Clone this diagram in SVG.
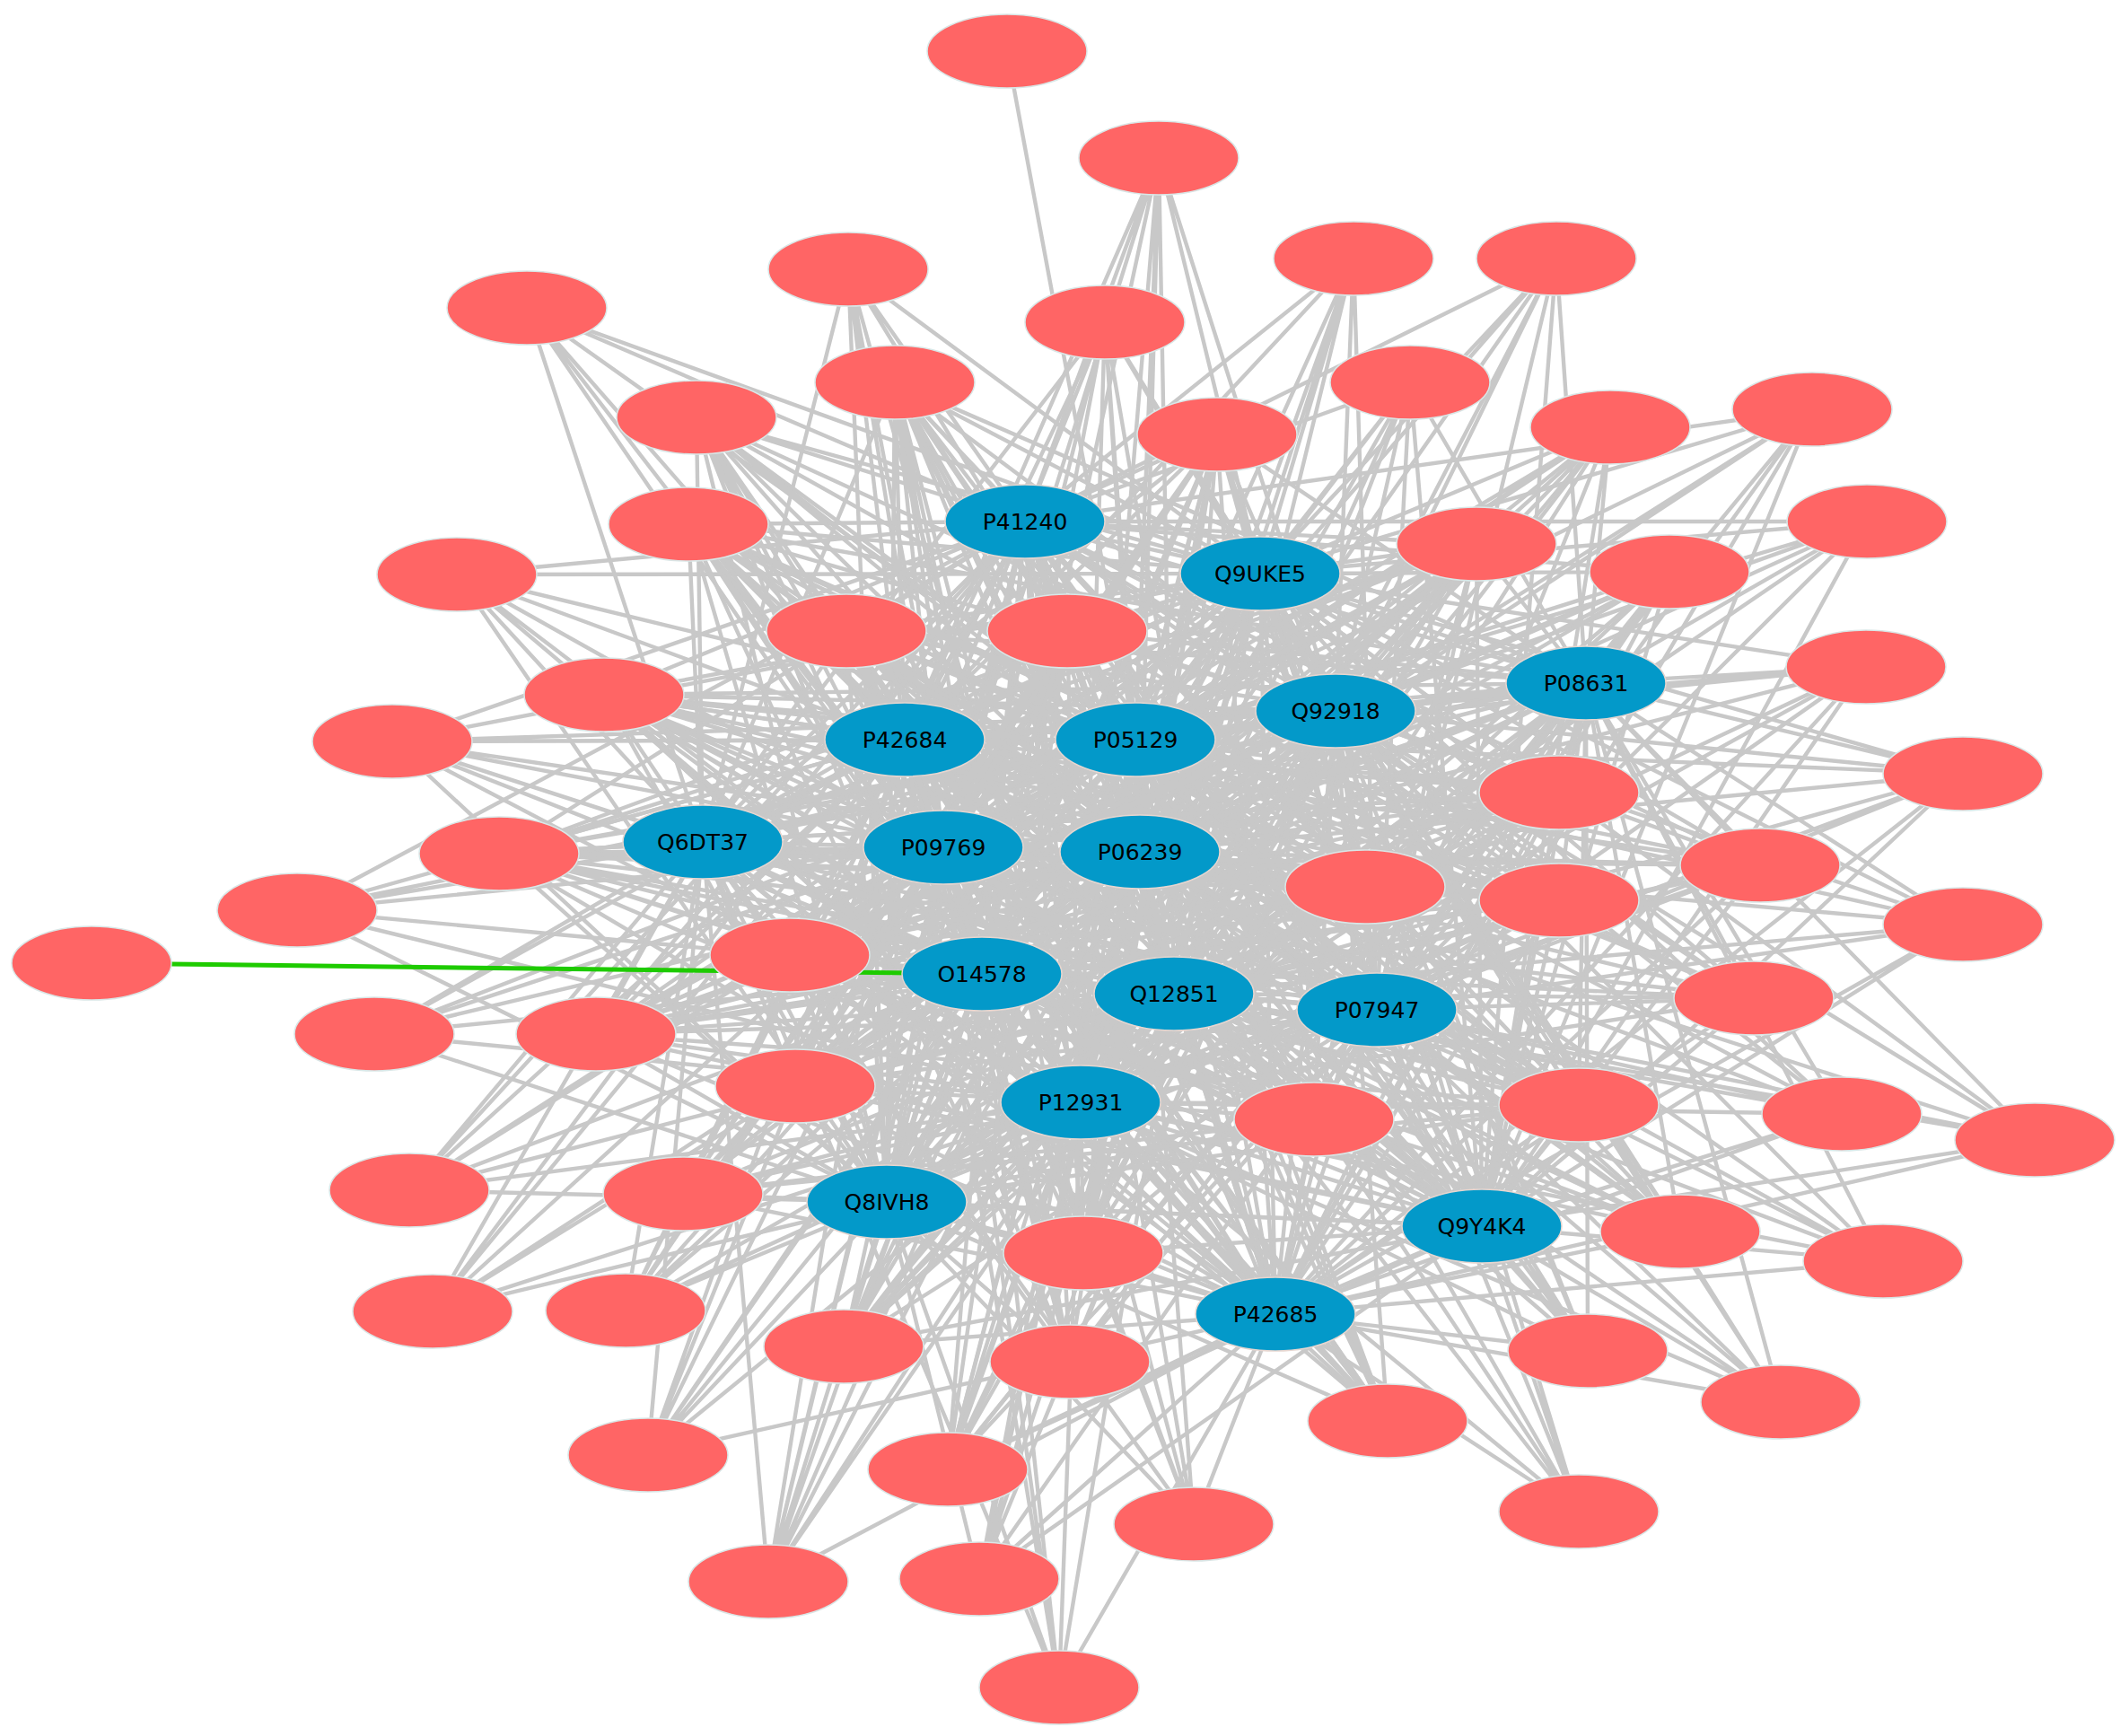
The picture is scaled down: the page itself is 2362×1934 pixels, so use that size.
<svg xmlns="http://www.w3.org/2000/svg" width="2362" height="1934" viewBox="0 0 2362 1934">
<defs>
<style>
.e{fill:none;stroke:#c8c8c8;stroke-width:4.4;stroke-linecap:round}
.g{fill:none;stroke:#1ecb00;stroke-width:5}
.r{fill:#ff6565;stroke:#d9e6e6;stroke-width:1.5}
.b{fill:#0399c9;stroke:#e6d6d0;stroke-width:1.5}
.t{font-family:"DejaVu Sans",Verdana,sans-serif;font-size:25px;fill:#000;text-anchor:middle;dominant-baseline:central}
</style>
</defs>
<rect width="2362" height="1934" fill="#fff"/>
<g id="edges">
<path class="e" d="M1122 57L1265 824"/>
<path class="e" d="M1291 176L1142 581M1291 176L1404 639M1291 176L1488 792M1291 176L1008 824M1291 176L1265 824M1291 176L1051 944M1291 176L1270 949M1291 176L1094 1085M1291 176L1308 1107M1291 176L1204 1228"/>
<path class="e" d="M945 300L1142 581M945 300L1404 639M945 300L1008 824M945 300L1265 824M945 300L783 938M945 300L1051 944M945 300L1094 1085M945 300L1204 1228M945 300L988 1339"/>
<path class="e" d="M587 343L1142 581M587 343L1404 639M587 343L1008 824M587 343L1265 824M587 343L783 938M587 343L1051 944M587 343L1094 1085"/>
<path class="e" d="M1508 288L1142 581M1508 288L1404 639M1508 288L1488 792M1508 288L1008 824M1508 288L1265 824M1508 288L1270 949M1508 288L1308 1107M1508 288L1534 1125M1508 288L1204 1228"/>
<path class="e" d="M1734 288L1142 581M1734 288L1404 639M1734 288L1767 761M1734 288L1488 792M1734 288L1265 824M1734 288L1270 949M1734 288L1308 1107M1734 288L1534 1125M1734 288L1651 1366"/>
<path class="e" d="M1231 359L1142 581M1231 359L1404 639M1231 359L1488 792M1231 359L1008 824M1231 359L1265 824M1231 359L783 938M1231 359L1270 949M1231 359L1094 1085M1231 359L1204 1228M1231 359L988 1339M1231 359L1421 1464"/>
<path class="e" d="M997 426L1142 581M997 426L1488 792M997 426L1008 824M997 426L1265 824M997 426L783 938M997 426L1051 944M997 426L1094 1085M997 426L1308 1107M997 426L1204 1228M997 426L988 1339M997 426L1404 639M997 426L1767 761M997 426L1270 949M997 426L1534 1125M997 426L1651 1366M997 426L1421 1464"/>
<path class="e" d="M776 465L1142 581M776 465L1404 639M776 465L1488 792M776 465L1008 824M776 465L1265 824M776 465L783 938M776 465L1051 944M776 465L1270 949M776 465L1094 1085M776 465L988 1339"/>
<path class="e" d="M1571 426L1142 581M1571 426L1404 639M1571 426L1767 761M1571 426L1488 792M1571 426L1265 824M1571 426L1270 949M1571 426L1308 1107M1571 426L1534 1125M1571 426L1204 1228M1571 426L1651 1366"/>
<path class="e" d="M1356 484L1142 581M1356 484L1767 761M1356 484L1488 792M1356 484L1008 824M1356 484L783 938M1356 484L1051 944M1356 484L1094 1085M1356 484L1308 1107M1356 484L1204 1228M1356 484L988 1339M1356 484L1421 1464M1356 484L1404 639M1356 484L1265 824M1356 484L1270 949M1356 484L1534 1125M1356 484L1651 1366"/>
<path class="e" d="M1794 476L1404 639M1794 476L1767 761M1794 476L1488 792M1794 476L1265 824M1794 476L1270 949M1794 476L1308 1107M1794 476L1534 1125M1794 476L1651 1366"/>
<path class="e" d="M2019 456L1142 581M2019 456L1404 639M2019 456L1767 761M2019 456L1488 792M2019 456L1265 824M2019 456L1270 949M2019 456L1534 1125M2019 456L1651 1366M2019 456L1421 1464"/>
<path class="e" d="M767 584L1142 581M767 584L1404 639M767 584L1488 792M767 584L1008 824M767 584L1265 824M767 584L783 938M767 584L1051 944M767 584L1094 1085M767 584L1204 1228M767 584L988 1339M767 584L1767 761M767 584L1270 949M767 584L1308 1107M767 584L1534 1125M767 584L1651 1366M767 584L1421 1464"/>
<path class="e" d="M2080 581L1142 581M2080 581L1404 639M2080 581L1767 761M2080 581L1488 792M2080 581L1265 824M2080 581L1270 949M2080 581L1308 1107M2080 581L1534 1125M2080 581L1651 1366"/>
<path class="e" d="M1645 606L1142 581M1645 606L1767 761M1645 606L1488 792M1645 606L1008 824M1645 606L783 938M1645 606L1051 944M1645 606L1094 1085M1645 606L1534 1125M1645 606L1204 1228M1645 606L1421 1464M1645 606L1404 639M1645 606L1265 824M1645 606L1270 949M1645 606L1308 1107M1645 606L988 1339M1645 606L1651 1366"/>
<path class="e" d="M509 640L1142 581M509 640L1404 639M509 640L1008 824M509 640L1265 824M509 640L783 938M509 640L1051 944M509 640L1094 1085M509 640L1204 1228M509 640L988 1339"/>
<path class="e" d="M1860 637L1142 581M1860 637L1404 639M1860 637L1767 761M1860 637L1488 792M1860 637L1265 824M1860 637L1270 949M1860 637L1308 1107M1860 637L1534 1125M1860 637L1651 1366M1860 637L1421 1464"/>
<path class="e" d="M943 703L1404 639M943 703L1767 761M943 703L1488 792M943 703L1265 824M943 703L1270 949M943 703L1308 1107M943 703L1534 1125M943 703L1204 1228M943 703L1651 1366M943 703L1142 581M943 703L1008 824M943 703L783 938M943 703L1051 944M943 703L1094 1085M943 703L988 1339M943 703L1421 1464"/>
<path class="e" d="M1189 703L1767 761M1189 703L1488 792M1189 703L783 938M1189 703L1051 944M1189 703L1094 1085M1189 703L1534 1125M1189 703L988 1339M1189 703L1651 1366M1189 703L1421 1464M1189 703L1142 581M1189 703L1404 639M1189 703L1008 824M1189 703L1265 824M1189 703L1270 949M1189 703L1308 1107M1189 703L1204 1228"/>
<path class="e" d="M673 774L1142 581M673 774L1404 639M673 774L1008 824M673 774L1265 824M673 774L783 938M673 774L1051 944M673 774L1270 949M673 774L1094 1085M673 774L1308 1107M673 774L1204 1228M673 774L988 1339M673 774L1767 761M673 774L1488 792M673 774L1534 1125M673 774L1651 1366M673 774L1421 1464"/>
<path class="e" d="M2079 743L1404 639M2079 743L1767 761M2079 743L1488 792M2079 743L1265 824M2079 743L1270 949M2079 743L1308 1107M2079 743L1534 1125M2079 743L1204 1228M2079 743L1651 1366M2079 743L1421 1464"/>
<path class="e" d="M437 826L1142 581M437 826L1008 824M437 826L1265 824M437 826L783 938M437 826L1051 944M437 826L1270 949M437 826L1094 1085M437 826L1204 1228M437 826L988 1339M437 826L1404 639M437 826L1488 792M437 826L1308 1107"/>
<path class="e" d="M2187 862L1404 639M2187 862L1767 761M2187 862L1488 792M2187 862L1265 824M2187 862L1270 949M2187 862L1308 1107M2187 862L1534 1125M2187 862L1204 1228M2187 862L1651 1366M2187 862L1421 1464"/>
<path class="e" d="M1737 883L1142 581M1737 883L1008 824M1737 883L1265 824M1737 883L783 938M1737 883L1051 944M1737 883L1094 1085M1737 883L1308 1107M1737 883L1204 1228M1737 883L988 1339M1737 883L1421 1464M1737 883L1404 639M1737 883L1767 761M1737 883L1488 792M1737 883L1270 949M1737 883L1534 1125M1737 883L1651 1366"/>
<path class="e" d="M556 951L1142 581M556 951L1404 639M556 951L1008 824M556 951L1265 824M556 951L783 938M556 951L1051 944M556 951L1270 949M556 951L1094 1085M556 951L1308 1107M556 951L1204 1228M556 951L988 1339M556 951L1488 792M556 951L1534 1125M556 951L1421 1464"/>
<path class="e" d="M1961 964L1142 581M1961 964L1404 639M1961 964L1767 761M1961 964L1488 792M1961 964L1265 824M1961 964L1270 949M1961 964L1308 1107M1961 964L1534 1125M1961 964L1204 1228M1961 964L1651 1366M1961 964L1421 1464"/>
<path class="e" d="M1521 988L1142 581M1521 988L1767 761M1521 988L1008 824M1521 988L783 938M1521 988L1051 944M1521 988L1094 1085M1521 988L988 1339M1521 988L1651 1366M1521 988L1404 639M1521 988L1488 792M1521 988L1265 824M1521 988L1270 949M1521 988L1308 1107M1521 988L1534 1125M1521 988L1204 1228M1521 988L1421 1464"/>
<path class="e" d="M1737 1003L1142 581M1737 1003L1404 639M1737 1003L1008 824M1737 1003L1265 824M1737 1003L783 938M1737 1003L1051 944M1737 1003L1094 1085M1737 1003L1204 1228M1737 1003L988 1339M1737 1003L1421 1464M1737 1003L1767 761M1737 1003L1488 792M1737 1003L1270 949M1737 1003L1308 1107M1737 1003L1534 1125M1737 1003L1651 1366"/>
<path class="e" d="M331 1014L1142 581M331 1014L1008 824M331 1014L1265 824M331 1014L783 938M331 1014L1051 944M331 1014L1094 1085M331 1014L1204 1228M331 1014L988 1339"/>
<path class="e" d="M2187 1030L1404 639M2187 1030L1767 761M2187 1030L1488 792M2187 1030L1265 824M2187 1030L1270 949M2187 1030L1308 1107M2187 1030L1534 1125M2187 1030L1651 1366M2187 1030L1421 1464"/>
<path class="e" d="M880 1064L1142 581M880 1064L1404 639M880 1064L1767 761M880 1064L1488 792M880 1064L1265 824M880 1064L1270 949M880 1064L1308 1107M880 1064L1534 1125M880 1064L1204 1228M880 1064L1651 1366M880 1064L1421 1464M880 1064L1008 824M880 1064L783 938M880 1064L1051 944M880 1064L1094 1085M880 1064L988 1339"/>
<path class="e" d="M417 1152L1008 824M417 1152L1265 824M417 1152L783 938M417 1152L1051 944M417 1152L1270 949M417 1152L1094 1085M417 1152L1204 1228M417 1152L988 1339"/>
<path class="e" d="M664 1152L1142 581M664 1152L1404 639M664 1152L1488 792M664 1152L1265 824M664 1152L1270 949M664 1152L1308 1107M664 1152L1534 1125M664 1152L1204 1228M664 1152L1651 1366M664 1152L1421 1464M664 1152L1008 824M664 1152L783 938M664 1152L1051 944M664 1152L1094 1085M664 1152L988 1339M664 1152L1767 761"/>
<path class="e" d="M1954 1112L1142 581M1954 1112L1404 639M1954 1112L1767 761M1954 1112L1488 792M1954 1112L1265 824M1954 1112L1270 949M1954 1112L1308 1107M1954 1112L1534 1125M1954 1112L1204 1228M1954 1112L1651 1366M1954 1112L1421 1464"/>
<path class="e" d="M886 1210L1142 581M886 1210L1404 639M886 1210L1767 761M886 1210L1488 792M886 1210L1265 824M886 1210L1270 949M886 1210L1308 1107M886 1210L1534 1125M886 1210L1651 1366M886 1210L1421 1464M886 1210L1008 824M886 1210L783 938M886 1210L1051 944M886 1210L1094 1085M886 1210L1204 1228M886 1210L988 1339"/>
<path class="e" d="M1464 1247L1142 581M1464 1247L1404 639M1464 1247L1767 761M1464 1247L1008 824M1464 1247L1265 824M1464 1247L783 938M1464 1247L1051 944M1464 1247L1094 1085M1464 1247L988 1339M1464 1247L1488 792M1464 1247L1270 949M1464 1247L1308 1107M1464 1247L1534 1125M1464 1247L1204 1228M1464 1247L1651 1366M1464 1247L1421 1464"/>
<path class="e" d="M1759 1231L1142 581M1759 1231L1404 639M1759 1231L1008 824M1759 1231L1265 824M1759 1231L783 938M1759 1231L1051 944M1759 1231L1270 949M1759 1231L1094 1085M1759 1231L1204 1228M1759 1231L988 1339M1759 1231L1767 761M1759 1231L1488 792M1759 1231L1308 1107M1759 1231L1534 1125M1759 1231L1651 1366M1759 1231L1421 1464"/>
<path class="e" d="M2052 1241L1404 639M2052 1241L1767 761M2052 1241L1488 792M2052 1241L1265 824M2052 1241L1270 949M2052 1241L1308 1107M2052 1241L1534 1125M2052 1241L1204 1228M2052 1241L1651 1366M2052 1241L1421 1464"/>
<path class="e" d="M2267 1270L1404 639M2267 1270L1767 761M2267 1270L1488 792M2267 1270L1270 949M2267 1270L1308 1107M2267 1270L1534 1125M2267 1270L1651 1366M2267 1270L1421 1464"/>
<path class="e" d="M456 1326L1142 581M456 1326L1008 824M456 1326L1265 824M456 1326L783 938M456 1326L1051 944M456 1326L1094 1085M456 1326L1308 1107M456 1326L1204 1228M456 1326L988 1339"/>
<path class="e" d="M761 1330L1142 581M761 1330L1404 639M761 1330L1488 792M761 1330L1265 824M761 1330L1270 949M761 1330L1308 1107M761 1330L1534 1125M761 1330L1204 1228M761 1330L1651 1366M761 1330L1421 1464"/>
<path class="e" d="M1872 1372L1142 581M1872 1372L1404 639M1872 1372L1767 761M1872 1372L1488 792M1872 1372L1265 824M1872 1372L1270 949M1872 1372L1094 1085M1872 1372L1308 1107M1872 1372L1534 1125M1872 1372L1204 1228M1872 1372L1421 1464"/>
<path class="e" d="M1207 1396L1142 581M1207 1396L1404 639M1207 1396L1767 761M1207 1396L1488 792M1207 1396L1008 824M1207 1396L783 938M1207 1396L1051 944M1207 1396L1094 1085M1207 1396L988 1339M1207 1396L1265 824M1207 1396L1270 949M1207 1396L1308 1107M1207 1396L1534 1125M1207 1396L1204 1228M1207 1396L1651 1366M1207 1396L1421 1464"/>
<path class="e" d="M2098 1405L1767 761M2098 1405L1488 792M2098 1405L1265 824M2098 1405L1270 949M2098 1405L1308 1107M2098 1405L1534 1125M2098 1405L1204 1228M2098 1405L1651 1366M2098 1405L1421 1464"/>
<path class="e" d="M482 1461L1142 581M482 1461L1008 824M482 1461L783 938M482 1461L1051 944M482 1461L1270 949M482 1461L1094 1085M482 1461L1204 1228M482 1461L988 1339"/>
<path class="e" d="M697 1460L1142 581M697 1460L1488 792M697 1460L1008 824M697 1460L1265 824M697 1460L783 938M697 1460L1051 944M697 1460L1094 1085M697 1460L1308 1107M697 1460L1204 1228M697 1460L988 1339"/>
<path class="e" d="M940 1500L1142 581M940 1500L1404 639M940 1500L1767 761M940 1500L1488 792M940 1500L1265 824M940 1500L1270 949M940 1500L1308 1107M940 1500L1534 1125M940 1500L1204 1228M940 1500L1651 1366M940 1500L1421 1464"/>
<path class="e" d="M1192 1517L1142 581M1192 1517L1767 761M1192 1517L1488 792M1192 1517L1008 824M1192 1517L783 938M1192 1517L1051 944M1192 1517L1094 1085M1192 1517L1534 1125M1192 1517L988 1339"/>
<path class="e" d="M1769 1505L1142 581M1769 1505L1404 639M1769 1505L1767 761M1769 1505L1488 792M1769 1505L1265 824M1769 1505L1270 949M1769 1505L1308 1107M1769 1505L1534 1125M1769 1505L1204 1228M1769 1505L1651 1366M1769 1505L1421 1464"/>
<path class="e" d="M1546 1583L1142 581M1546 1583L1488 792M1546 1583L1008 824M1546 1583L1265 824M1546 1583L783 938M1546 1583L1051 944M1546 1583L1270 949M1546 1583L1094 1085M1546 1583L1204 1228M1546 1583L988 1339"/>
<path class="e" d="M1984 1562L1404 639M1984 1562L1767 761M1984 1562L1488 792M1984 1562L1270 949M1984 1562L1308 1107M1984 1562L1534 1125M1984 1562L1204 1228M1984 1562L1651 1366M1984 1562L1421 1464"/>
<path class="e" d="M722 1621L1142 581M722 1621L1008 824M722 1621L1265 824M722 1621L783 938M722 1621L1051 944M722 1621L1270 949M722 1621L1094 1085M722 1621L1204 1228M722 1621L988 1339M722 1621L1421 1464"/>
<path class="e" d="M1056 1637L1142 581M1056 1637L1404 639M1056 1637L1767 761M1056 1637L1488 792M1056 1637L1265 824M1056 1637L1270 949M1056 1637L1308 1107M1056 1637L1534 1125M1056 1637L1204 1228M1056 1637L1651 1366M1056 1637L1421 1464"/>
<path class="e" d="M1330 1698L1142 581M1330 1698L1008 824M1330 1698L1265 824M1330 1698L783 938M1330 1698L1051 944M1330 1698L1094 1085M1330 1698L1204 1228M1330 1698L988 1339M1330 1698L1421 1464"/>
<path class="e" d="M1759 1684L1404 639M1759 1684L1488 792M1759 1684L1265 824M1759 1684L1270 949M1759 1684L1308 1107M1759 1684L1534 1125M1759 1684L1204 1228M1759 1684L1651 1366M1759 1684L1421 1464"/>
<path class="e" d="M856 1762L1142 581M856 1762L1008 824M856 1762L1265 824M856 1762L783 938M856 1762L1051 944M856 1762L1270 949M856 1762L1094 1085M856 1762L1308 1107M856 1762L1204 1228M856 1762L988 1339M856 1762L1421 1464"/>
<path class="e" d="M1091 1759L1404 639M1091 1759L1488 792M1091 1759L1265 824M1091 1759L1270 949M1091 1759L1308 1107M1091 1759L1534 1125M1091 1759L1204 1228M1091 1759L988 1339M1091 1759L1651 1366M1091 1759L1421 1464"/>
<path class="e" d="M1180 1880L1008 824M1180 1880L783 938M1180 1880L1051 944M1180 1880L1094 1085M1180 1880L1308 1107M1180 1880L1204 1228M1180 1880L988 1339M1180 1880L1421 1464"/>
<path class="e" d="M1142 581L1404 639M1142 581L1767 761M1142 581L1488 792M1142 581L1008 824M1142 581L1265 824M1142 581L783 938M1142 581L1051 944M1142 581L1270 949M1142 581L1094 1085M1142 581L1308 1107M1142 581L1534 1125M1142 581L1204 1228M1142 581L988 1339M1142 581L1651 1366M1142 581L1421 1464"/>
<path class="e" d="M1404 639L1767 761M1404 639L1488 792M1404 639L1008 824M1404 639L1265 824M1404 639L783 938M1404 639L1051 944M1404 639L1270 949M1404 639L1094 1085M1404 639L1308 1107M1404 639L1534 1125M1404 639L1204 1228M1404 639L988 1339M1404 639L1651 1366M1404 639L1421 1464"/>
<path class="e" d="M1767 761L1488 792M1767 761L1008 824M1767 761L1265 824M1767 761L783 938M1767 761L1051 944M1767 761L1270 949M1767 761L1094 1085M1767 761L1308 1107M1767 761L1534 1125M1767 761L1204 1228M1767 761L988 1339M1767 761L1651 1366M1767 761L1421 1464"/>
<path class="e" d="M1488 792L1008 824M1488 792L1265 824M1488 792L783 938M1488 792L1051 944M1488 792L1270 949M1488 792L1094 1085M1488 792L1308 1107M1488 792L1534 1125M1488 792L1204 1228M1488 792L988 1339M1488 792L1651 1366M1488 792L1421 1464"/>
<path class="e" d="M1008 824L1265 824M1008 824L783 938M1008 824L1051 944M1008 824L1270 949M1008 824L1094 1085M1008 824L1308 1107M1008 824L1534 1125M1008 824L1204 1228M1008 824L988 1339M1008 824L1651 1366M1008 824L1421 1464"/>
<path class="e" d="M1265 824L783 938M1265 824L1051 944M1265 824L1270 949M1265 824L1094 1085M1265 824L1308 1107M1265 824L1534 1125M1265 824L1204 1228M1265 824L988 1339M1265 824L1651 1366M1265 824L1421 1464"/>
<path class="e" d="M783 938L1051 944M783 938L1270 949M783 938L1094 1085M783 938L1308 1107M783 938L1534 1125M783 938L1204 1228M783 938L988 1339M783 938L1651 1366M783 938L1421 1464"/>
<path class="e" d="M1051 944L1270 949M1051 944L1094 1085M1051 944L1308 1107M1051 944L1534 1125M1051 944L1204 1228M1051 944L988 1339M1051 944L1651 1366M1051 944L1421 1464"/>
<path class="e" d="M1270 949L1094 1085M1270 949L1308 1107M1270 949L1534 1125M1270 949L1204 1228M1270 949L988 1339M1270 949L1651 1366M1270 949L1421 1464"/>
<path class="e" d="M1094 1085L1308 1107M1094 1085L1534 1125M1094 1085L1204 1228M1094 1085L988 1339M1094 1085L1651 1366M1094 1085L1421 1464"/>
<path class="e" d="M1308 1107L1534 1125M1308 1107L1204 1228M1308 1107L988 1339M1308 1107L1651 1366M1308 1107L1421 1464"/>
<path class="e" d="M1534 1125L1204 1228M1534 1125L988 1339M1534 1125L1651 1366M1534 1125L1421 1464"/>
<path class="e" d="M1204 1228L988 1339M1204 1228L1651 1366M1204 1228L1421 1464"/>
<path class="e" d="M988 1339L1651 1366M988 1339L1421 1464M1651 1366L1421 1464"/>
<path class="e" d="M997 426L1207 1396M997 426L1192 1517M997 426L1546 1583M997 426L1759 1231M997 426L1464 1247M776 465L1464 1247M776 465L1759 1231M776 465L1546 1583M776 465L1737 1003M776 465L1872 1372M1356 484L761 1330M1356 484L697 1460M1356 484L940 1500M1356 484L886 1210M1356 484L1056 1637M767 584L1521 988M767 584L1737 1003M767 584L1759 1231M767 584L1954 1112M767 584L1464 1247M1645 606L664 1152M1645 606L886 1210M1645 606L761 1330M1645 606L880 1064M1645 606L556 951"/>
<path class="e" d="M943 703L1759 1231M943 703L1872 1372M943 703L1546 1583M943 703L1464 1247M943 703L1954 1112M1189 703L761 1330M1189 703L697 1460M1189 703L940 1500M1189 703L1056 1637M1189 703L886 1210M673 774L1737 883M673 774L1521 988M673 774L1961 964M673 774L1737 1003M673 774L1464 1247M1737 883L880 1064M1737 883L664 1152M1737 883L886 1210M1737 883L556 951M1521 988L880 1064M1521 988L556 951M1521 988L664 1152M1737 1003L556 951M1737 1003L880 1064M1737 1003L664 1152"/>
<path class="e" d="M880 1064L1794 476M880 1064L1860 637M664 1152L1794 476M664 1152L1860 637M886 1210L1860 637M886 1210L1794 476M886 1210L1961 964M1464 1247L556 951M1464 1247L761 1330M1759 1231L664 1152M1759 1231L761 1330M1207 1396L1356 484M1207 1396L1794 476M1207 1396L776 465M940 1500L1794 476M940 1500L1860 637M940 1500L1645 606M1192 1517L776 465M1192 1517L767 584M1192 1517L1356 484M1056 1637L1645 606M1056 1637L1860 637M1546 1583L767 584M1546 1583L673 774M1872 1372L673 774M1872 1372L556 951M1961 964L556 951M1954 1112L556 951M1954 1112L880 1064"/>
<path class="g" d="M102 1073L1094 1085"/>
</g>
<g id="r1"><ellipse class="r" cx="1122" cy="57" rx="89" ry="41"/></g>
<g id="r2"><ellipse class="r" cx="1291" cy="176" rx="89" ry="41"/></g>
<g id="r3"><ellipse class="r" cx="945" cy="300" rx="89" ry="41"/></g>
<g id="r4"><ellipse class="r" cx="587" cy="343" rx="89" ry="41"/></g>
<g id="r5"><ellipse class="r" cx="1508" cy="288" rx="89" ry="41"/></g>
<g id="r6"><ellipse class="r" cx="1734" cy="288" rx="89" ry="41"/></g>
<g id="r7"><ellipse class="r" cx="1231" cy="359" rx="89" ry="41"/></g>
<g id="r8"><ellipse class="r" cx="997" cy="426" rx="89" ry="41"/></g>
<g id="r9"><ellipse class="r" cx="776" cy="465" rx="89" ry="41"/></g>
<g id="r10"><ellipse class="r" cx="1571" cy="426" rx="89" ry="41"/></g>
<g id="r11"><ellipse class="r" cx="1356" cy="484" rx="89" ry="41"/></g>
<g id="r12"><ellipse class="r" cx="1794" cy="476" rx="89" ry="41"/></g>
<g id="r13"><ellipse class="r" cx="2019" cy="456" rx="89" ry="41"/></g>
<g id="r14"><ellipse class="r" cx="767" cy="584" rx="89" ry="41"/></g>
<g id="r15"><ellipse class="r" cx="2080" cy="581" rx="89" ry="41"/></g>
<g id="r16"><ellipse class="r" cx="1645" cy="606" rx="89" ry="41"/></g>
<g id="r17"><ellipse class="r" cx="509" cy="640" rx="89" ry="41"/></g>
<g id="r18"><ellipse class="r" cx="1860" cy="637" rx="89" ry="41"/></g>
<g id="r19"><ellipse class="r" cx="943" cy="703" rx="89" ry="41"/></g>
<g id="r20"><ellipse class="r" cx="1189" cy="703" rx="89" ry="41"/></g>
<g id="r21"><ellipse class="r" cx="673" cy="774" rx="89" ry="41"/></g>
<g id="r22"><ellipse class="r" cx="2079" cy="743" rx="89" ry="41"/></g>
<g id="r23"><ellipse class="r" cx="437" cy="826" rx="89" ry="41"/></g>
<g id="r24"><ellipse class="r" cx="2187" cy="862" rx="89" ry="41"/></g>
<g id="r25"><ellipse class="r" cx="1737" cy="883" rx="89" ry="41"/></g>
<g id="r26"><ellipse class="r" cx="556" cy="951" rx="89" ry="41"/></g>
<g id="r27"><ellipse class="r" cx="1961" cy="964" rx="89" ry="41"/></g>
<g id="r28"><ellipse class="r" cx="1521" cy="988" rx="89" ry="41"/></g>
<g id="r29"><ellipse class="r" cx="1737" cy="1003" rx="89" ry="41"/></g>
<g id="r30"><ellipse class="r" cx="331" cy="1014" rx="89" ry="41"/></g>
<g id="r31"><ellipse class="r" cx="2187" cy="1030" rx="89" ry="41"/></g>
<g id="r32"><ellipse class="r" cx="102" cy="1073" rx="89" ry="41"/></g>
<g id="r33"><ellipse class="r" cx="880" cy="1064" rx="89" ry="41"/></g>
<g id="r34"><ellipse class="r" cx="417" cy="1152" rx="89" ry="41"/></g>
<g id="r35"><ellipse class="r" cx="664" cy="1152" rx="89" ry="41"/></g>
<g id="r36"><ellipse class="r" cx="1954" cy="1112" rx="89" ry="41"/></g>
<g id="r37"><ellipse class="r" cx="886" cy="1210" rx="89" ry="41"/></g>
<g id="r38"><ellipse class="r" cx="1464" cy="1247" rx="89" ry="41"/></g>
<g id="r39"><ellipse class="r" cx="1759" cy="1231" rx="89" ry="41"/></g>
<g id="r40"><ellipse class="r" cx="2052" cy="1241" rx="89" ry="41"/></g>
<g id="r41"><ellipse class="r" cx="2267" cy="1270" rx="89" ry="41"/></g>
<g id="r42"><ellipse class="r" cx="456" cy="1326" rx="89" ry="41"/></g>
<g id="r43"><ellipse class="r" cx="761" cy="1330" rx="89" ry="41"/></g>
<g id="r44"><ellipse class="r" cx="1872" cy="1372" rx="89" ry="41"/></g>
<g id="r45"><ellipse class="r" cx="1207" cy="1396" rx="89" ry="41"/></g>
<g id="r46"><ellipse class="r" cx="2098" cy="1405" rx="89" ry="41"/></g>
<g id="r47"><ellipse class="r" cx="482" cy="1461" rx="89" ry="41"/></g>
<g id="r48"><ellipse class="r" cx="697" cy="1460" rx="89" ry="41"/></g>
<g id="r49"><ellipse class="r" cx="940" cy="1500" rx="89" ry="41"/></g>
<g id="r50"><ellipse class="r" cx="1192" cy="1517" rx="89" ry="41"/></g>
<g id="r51"><ellipse class="r" cx="1769" cy="1505" rx="89" ry="41"/></g>
<g id="r52"><ellipse class="r" cx="1546" cy="1583" rx="89" ry="41"/></g>
<g id="r53"><ellipse class="r" cx="1984" cy="1562" rx="89" ry="41"/></g>
<g id="r54"><ellipse class="r" cx="722" cy="1621" rx="89" ry="41"/></g>
<g id="r55"><ellipse class="r" cx="1056" cy="1637" rx="89" ry="41"/></g>
<g id="r56"><ellipse class="r" cx="1330" cy="1698" rx="89" ry="41"/></g>
<g id="r57"><ellipse class="r" cx="1759" cy="1684" rx="89" ry="41"/></g>
<g id="r58"><ellipse class="r" cx="856" cy="1762" rx="89" ry="41"/></g>
<g id="r59"><ellipse class="r" cx="1091" cy="1759" rx="89" ry="41"/></g>
<g id="r60"><ellipse class="r" cx="1180" cy="1880" rx="89" ry="41"/></g>
<g id="P41240"><ellipse class="b" cx="1142" cy="581" rx="89" ry="41"/><text class="t" x="1142" y="581">P41240</text></g>
<g id="Q9UKE5"><ellipse class="b" cx="1404" cy="639" rx="89" ry="41"/><text class="t" x="1404" y="639">Q9UKE5</text></g>
<g id="P08631"><ellipse class="b" cx="1767" cy="761" rx="89" ry="41"/><text class="t" x="1767" y="761">P08631</text></g>
<g id="Q92918"><ellipse class="b" cx="1488" cy="792" rx="89" ry="41"/><text class="t" x="1488" y="792">Q92918</text></g>
<g id="P42684"><ellipse class="b" cx="1008" cy="824" rx="89" ry="41"/><text class="t" x="1008" y="824">P42684</text></g>
<g id="P05129"><ellipse class="b" cx="1265" cy="824" rx="89" ry="41"/><text class="t" x="1265" y="824">P05129</text></g>
<g id="Q6DT37"><ellipse class="b" cx="783" cy="938" rx="89" ry="41"/><text class="t" x="783" y="938">Q6DT37</text></g>
<g id="P09769"><ellipse class="b" cx="1051" cy="944" rx="89" ry="41"/><text class="t" x="1051" y="944">P09769</text></g>
<g id="P06239"><ellipse class="b" cx="1270" cy="949" rx="89" ry="41"/><text class="t" x="1270" y="949">P06239</text></g>
<g id="O14578"><ellipse class="b" cx="1094" cy="1085" rx="89" ry="41"/><text class="t" x="1094" y="1085">O14578</text></g>
<g id="Q12851"><ellipse class="b" cx="1308" cy="1107" rx="89" ry="41"/><text class="t" x="1308" y="1107">Q12851</text></g>
<g id="P07947"><ellipse class="b" cx="1534" cy="1125" rx="89" ry="41"/><text class="t" x="1534" y="1125">P07947</text></g>
<g id="P12931"><ellipse class="b" cx="1204" cy="1228" rx="89" ry="41"/><text class="t" x="1204" y="1228">P12931</text></g>
<g id="Q8IVH8"><ellipse class="b" cx="988" cy="1339" rx="89" ry="41"/><text class="t" x="988" y="1339">Q8IVH8</text></g>
<g id="Q9Y4K4"><ellipse class="b" cx="1651" cy="1366" rx="89" ry="41"/><text class="t" x="1651" y="1366">Q9Y4K4</text></g>
<g id="P42685"><ellipse class="b" cx="1421" cy="1464" rx="89" ry="41"/><text class="t" x="1421" y="1464">P42685</text></g>
</svg>
